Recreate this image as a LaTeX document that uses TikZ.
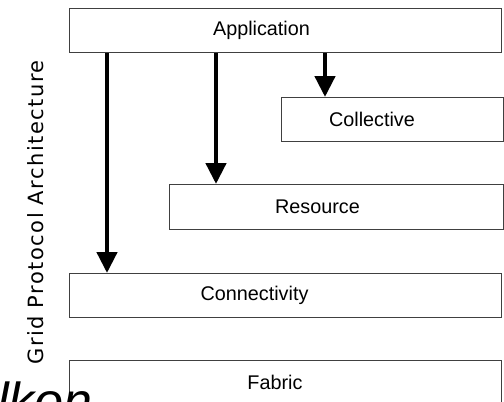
\documentclass[tikz,border=0pt]{standalone}
\usepackage{fontspec}
\usepackage{tikz}
\usetikzlibrary{arrows.meta}
\newfontfamily\boxfont{Liberation Sans}
\newfontfamily\sidefont[LetterSpace=7]{DejaVu Sans}
\newfontfamily\cutfont{Liberation Sans}

\begin{document}
\begin{tikzpicture}[x=1pt,y=-1pt]
\tikzset{
  layer/.style={draw=black!75, line width=1pt, anchor=north west,
    minimum height=44pt, inner sep=0pt},
  call/.style={line width=4.5pt, -{Triangle[width=20pt,length=21pt]}},
  tag/.style={font=\boxfont\fontsize{19.8}{24}\selectfont}
}
\useasboundingbox (0,0) rectangle (504,402);

\node[layer, minimum width=432pt,
  label={[tag, xshift=-24pt]center:Application}] (app) at (69,8) {};
\node[layer, minimum width=222pt,
  label={[tag, xshift=-20.5pt]center:Collective}] (coll) at (281,97) {};
\node[layer, minimum width=334pt, minimum height=45pt,
  label={[tag, xshift=-19pt]center:Resource}] (res) at (169,184) {};
\node[layer, minimum width=432pt,
  label={[tag, xshift=-31pt]center:Connectivity}] (conn) at (69,273) {};
\node[layer, minimum width=432pt,
  label={[tag, xshift=-10.5pt]center:Fabric}] (fab) at (69,360) {};

\draw[call] (app.south -| 107,0) -- (conn.north -| 107,0);
\draw[call] (app.south -| 216,0) -- (res.north -| 216,0);
\draw[call] (app.south -| 325,0) -- (coll.north -| 325,0);

\node[rotate=90, anchor=base, inner sep=0pt,
  font=\sidefont\fontsize{21}{25}\selectfont] (side) at (43,212.5)
  {Grid Protocol Architecture};
\node[anchor=base west, inner sep=0pt,
  font=\cutfont\itshape\fontsize{52}{60}\selectfont] (cut) at (-3,419) {lkon};
\end{tikzpicture}
\end{document}
